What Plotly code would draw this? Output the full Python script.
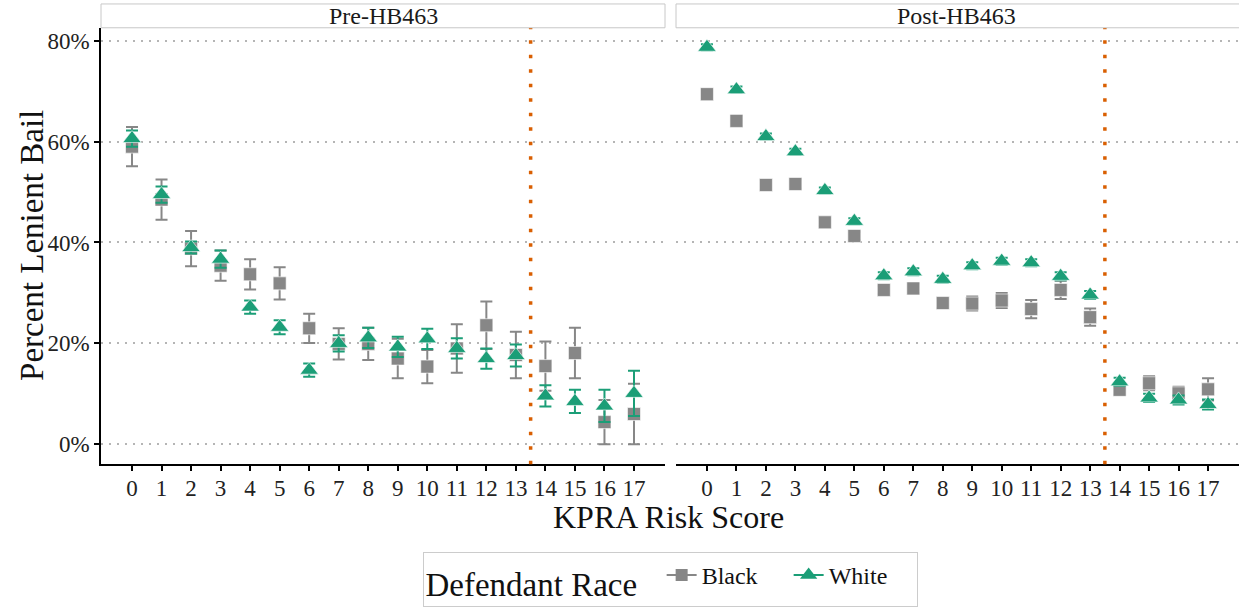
import plotly.graph_objects as go

# KPRA risk scores (x axis, both panels)
scores = list(range(18))
tick_labels = [str(s) for s in scores]

# Pre-HB463: percent lenient bail and 95% CI half-widths
pre_black = [59.0, 48.5, 38.8, 35.4, 33.7, 31.9, 23.0, 19.9, 19.9, 17.0, 15.4, 19.0, 23.6, 17.7, 15.5, 18.1, 4.4, 6.0]
pre_black_err = [3.9, 4.0, 3.5, 3.0, 3.0, 3.2, 2.9, 3.1, 3.2, 3.9, 3.3, 4.8, 4.7, 4.6, 4.9, 5.0, 4.4, 6.0]
pre_white = [60.6, 49.5, 39.0, 36.7, 27.2, 23.2, 14.7, 20.0, 21.1, 19.3, 20.9, 19.0, 17.0, 17.6, 9.6, 8.5, 7.6, 10.1]
pre_white_err = [1.6, 1.6, 1.2, 1.7, 1.3, 1.4, 1.3, 1.6, 2.0, 2.0, 2.0, 2.0, 2.0, 2.2, 2.1, 2.3, 3.2, 4.5]

# Post-HB463
post_black = [69.4, 64.1, 51.4, 51.6, 44.0, 41.3, 30.6, 30.9, 28.0, 27.9, 28.5, 26.8, 30.6, 25.2, 10.8, 12.1, 10.1, 10.9]
post_black_err = [1.0, 1.0, 1.0, 0.9, 0.8, 0.8, 0.8, 0.9, 1.0, 1.4, 1.5, 1.8, 1.8, 1.7, 1.0, 1.4, 1.3, 2.2]
post_white = [78.7, 70.3, 61.0, 58.0, 50.3, 44.2, 33.4, 34.2, 32.7, 35.4, 36.3, 36.0, 33.3, 29.6, 12.4, 9.2, 8.8, 7.9]
post_white_err = [0.6, 0.6, 0.6, 0.6, 0.6, 0.6, 0.7, 0.7, 0.7, 0.7, 0.7, 0.7, 0.8, 0.8, 0.8, 0.8, 0.9, 1.0]

y_ticks = [0, 20, 40, 60, 80]
y_tick_labels = ["0%", "20%", "40%", "60%", "80%"]
cutoff = 13.5
panels = ["Pre-HB463", "Post-HB463"]

GRAY = "#878787"
GREEN = "#1b9e77"
ORANGE = "#d95f02"
FONT = "Liberation Serif, Times New Roman, serif"
W, H = 1239, 607


def px_x(v):
    return v / W


def px_y(v):
    return (H - v) / H


def series(x, y, err, color, symbol, size, xa, ya, name):
    lower = [min(e, m) for e, m in zip(err, y)]  # CI floored at 0%
    return go.Scatter(
        x=x, y=y, mode="markers", name=name, showlegend=False,
        xaxis=xa, yaxis=ya,
        marker=dict(color=color, symbol=symbol, size=size,
                    line=dict(color="white", width=0.6)),
        error_y=dict(type="data", symmetric=False, array=err, arrayminus=lower,
                     color=color, thickness=2, width=6),
        hoverinfo="x+y",
    )


fig = go.Figure()
data = [
    ("x", "y", pre_black, pre_black_err, pre_white, pre_white_err),
    ("x2", "y2", post_black, post_black_err, post_white, post_white_err),
]
for xa, ya, b, be, w, we in data:
    fig.add_trace(series(scores, b, be, GRAY, "square", 13, xa, ya, "Black"))
    fig.add_trace(series(scores, w, we, GREEN, "triangle-up", 16, xa, ya, "White"))

# legend keys
fig.add_trace(go.Scatter(x=[None], y=[None], mode="lines+markers", name="Black",
                         line=dict(color=GRAY, width=2),
                         marker=dict(color=GRAY, symbol="square", size=12)))
fig.add_trace(go.Scatter(x=[None], y=[None], mode="lines+markers", name="White",
                         line=dict(color=GREEN, width=2),
                         marker=dict(color=GREEN, symbol="triangle-up", size=15)))

x_dom = [(px_x(101), px_x(665)), (px_x(676), 1.0)]
y_dom = (px_y(468), px_y(28))
x_range = [-1.05, 18.05]
y_range = [-3.93, 82.56]

common_x = dict(range=x_range, tickmode="array", tickvals=scores, ticktext=tick_labels,
                showgrid=False, zeroline=False, showline=True, linecolor="black",
                linewidth=1.6, ticks="outside", ticklen=5, tickwidth=1.5, tickcolor="black",
                ticklabelstandoff=-3,
                tickfont=dict(family=FONT, size=23, color="#222222"))
common_y = dict(range=y_range, tickmode="array", tickvals=y_ticks, ticktext=y_tick_labels,
                zeroline=False, showgrid=True, gridcolor="#b5b5b5", gridwidth=2,
                griddash="2px,6px", domain=y_dom)

fig.update_layout(
    width=W, height=H,
    margin=dict(l=0, r=0, t=0, b=0),
    paper_bgcolor="white", plot_bgcolor="white",
    font=dict(family=FONT, color="#111111"),
    xaxis=dict(domain=x_dom[0], anchor="y", **common_x),
    xaxis2=dict(domain=x_dom[1], anchor="y2", **common_x),
    yaxis=dict(anchor="x", showline=True, linecolor="black", linewidth=1.6,
               ticks="outside", ticklen=5, tickwidth=1.5, tickcolor="black",
               tickfont=dict(family=FONT, size=23, color="#222222"),
               **common_y),
    yaxis2=dict(anchor="x2", matches="y", showticklabels=False, showline=False,
                ticks="", **common_y),
    showlegend=True,
    legend=dict(
        orientation="h", x=px_x(670), xanchor="center", y=px_y(557), yanchor="top",
        bordercolor="#cccccc", borderwidth=1, bgcolor="white", valign="middle",
        title=dict(text="Defendant Race  ", side="left", font=dict(family=FONT, size=33)),
        font=dict(family=FONT, size=24), itemwidth=30, entrywidth=82,
    ),
)

# cutoff lines
for xa, ya in [("x", "y"), ("x2", "y2")]:
    fig.add_shape(type="line", xref=xa, yref=f"{ya} domain", x0=cutoff, x1=cutoff,
                  y0=0, y1=1, line=dict(color=ORANGE, width=3.5, dash="3.5px,11px"))

# facet strips
for (x0, x1), label in zip(x_dom, panels):
    fig.add_shape(type="rect", xref="paper", yref="paper", x0=x0, x1=x1 if x1 < 1 else 1.01,
                  y0=px_y(28), y1=px_y(4), line=dict(color="#c8c8c8", width=1),
                  fillcolor="white")
    fig.add_annotation(text=label, xref="paper", yref="paper", x=(x0 + min(x1, px_x(1237))) / 2,
                       y=px_y(16), xanchor="center", yanchor="middle", showarrow=False,
                       font=dict(family=FONT, size=24, color="#1a1a1a"))

# axis titles
fig.add_annotation(text="KPRA Risk Score", xref="paper", yref="paper", x=px_x(668), y=px_y(521),
                   xanchor="center", yanchor="middle", showarrow=False,
                   font=dict(family=FONT, size=32, color="#111111"))
fig.add_annotation(text="Percent Lenient Bail", xref="paper", yref="paper", x=px_x(32), y=px_y(248),
                   xanchor="center", yanchor="middle", textangle=-90, showarrow=False,
                   font=dict(family=FONT, size=33, color="#111111"))

fig.write_html("out.html")
